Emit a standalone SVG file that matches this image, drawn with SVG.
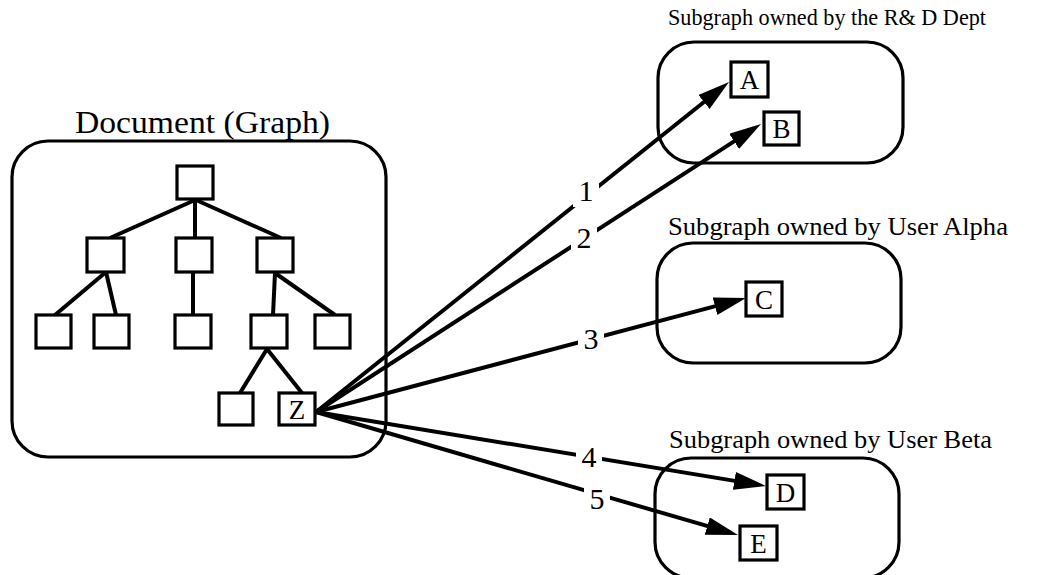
<svg xmlns="http://www.w3.org/2000/svg" width="1049" height="575" viewBox="0 0 1049 575">
<style>
.frame{fill:none;stroke:#000;stroke-width:3.2}
.node{fill:#fff;stroke:#000;stroke-width:3.2}
.edge{stroke:#000;stroke-width:4;fill:none}
.arrow{stroke:#000;stroke-width:4;fill:none;marker-end:url(#ah)}
.title{font-family:"Liberation Serif",serif;fill:#000}
.lbl{font-family:"Liberation Serif",serif;font-size:27px;text-anchor:middle;fill:#000}
.num{font-family:"Liberation Serif",serif;font-size:30px;text-anchor:middle;fill:#000}
.gap{fill:#fff}
</style>
<defs>
<marker id="ah" markerUnits="userSpaceOnUse" markerWidth="34" markerHeight="20" refX="22" refY="9" orient="auto">
<path d="M0,0 L32,9 L0,18 Z" fill="#000"/>
</marker>
</defs>
<rect width="1049" height="575" fill="#fff"/>

<g id="document">
<rect class="frame" x="12" y="141" width="374" height="316" rx="36" ry="36"/>
<text class="title" x="75" y="133" font-size="31" textLength="255" lengthAdjust="spacingAndGlyphs">Document  (Graph)</text>
</g>

<g id="tree-edges">
<line class="edge" x1="195" y1="200" x2="110" y2="238"/>
<line class="edge" x1="195" y1="200" x2="195" y2="238"/>
<line class="edge" x1="196" y1="200" x2="281" y2="238"/>
<line class="edge" x1="106" y1="272" x2="55" y2="315"/>
<line class="edge" x1="106" y1="272" x2="116" y2="315"/>
<line class="edge" x1="193" y1="272" x2="193" y2="315"/>
<line class="edge" x1="275" y1="273" x2="273" y2="315"/>
<line class="edge" x1="275" y1="273" x2="335" y2="315"/>
<line class="edge" x1="267" y1="349" x2="240" y2="393"/>
<line class="edge" x1="267" y1="349" x2="302" y2="393"/>
</g>

<g id="tree-root"><rect class="node" x="177" y="166" width="36" height="33"/></g>
<g id="tree-n1"><rect class="node" x="87" y="238" width="37" height="34"/></g>
<g id="tree-n2"><rect class="node" x="176" y="238" width="36" height="34"/></g>
<g id="tree-n3"><rect class="node" x="257" y="238" width="36" height="34"/></g>
<g id="tree-n4"><rect class="node" x="36" y="315" width="35" height="33"/></g>
<g id="tree-n5"><rect class="node" x="94" y="315" width="35" height="33"/></g>
<g id="tree-n6"><rect class="node" x="175" y="315" width="36" height="33"/></g>
<g id="tree-n7"><rect class="node" x="251" y="315" width="36" height="33"/></g>
<g id="tree-n8"><rect class="node" x="315" y="315" width="35" height="33"/></g>
<g id="tree-n9"><rect class="node" x="219" y="393" width="34" height="32"/></g>
<g id="node-Z"><rect class="node" x="279" y="393" width="36" height="32"/><text class="lbl" x="297" y="419">Z</text></g>

<g id="subgraph-rd">
<rect class="frame" x="658" y="42" width="245" height="121" rx="36" ry="36"/>
<text class="title" x="668" y="25" font-size="22.5" textLength="318" lengthAdjust="spacingAndGlyphs">Subgraph owned by the R&amp; D Dept</text>
</g>
<g id="node-A"><rect class="node" x="731" y="62" width="37" height="35"/><text class="lbl" x="749.5" y="89">A</text></g>
<g id="node-B"><rect class="node" x="764" y="112" width="35" height="33"/><text class="lbl" x="781.5" y="138">B</text></g>

<g id="subgraph-alpha">
<rect class="frame" x="657" y="243" width="244" height="120" rx="36" ry="36"/>
<text class="title" x="668" y="235" font-size="25.5" textLength="340" lengthAdjust="spacingAndGlyphs">Subgraph owned by User Alpha</text>
</g>
<g id="node-C"><rect class="node" x="746" y="282" width="36" height="34"/><text class="lbl" x="764" y="309">C</text></g>

<g id="subgraph-beta">
<rect class="frame" x="655" y="458" width="244" height="120" rx="36" ry="36"/>
<text class="title" x="669" y="448" font-size="25.5" textLength="323" lengthAdjust="spacingAndGlyphs">Subgraph owned by User Beta</text>
</g>
<g id="node-D"><rect class="node" x="767" y="475" width="37" height="34"/><text class="lbl" x="785.5" y="502">D</text></g>
<g id="node-E"><rect class="node" x="740" y="526" width="37" height="34"/><text class="lbl" x="758.5" y="553">E</text></g>

<g id="connectors">
<line class="arrow" x1="316" y1="412" x2="721.2" y2="88.2"/>
<line class="arrow" x1="316" y1="412" x2="752.6" y2="129.4"/>
<line class="arrow" x1="316" y1="412" x2="736.3" y2="300.6"/>
<line class="arrow" x1="316" y1="412" x2="756.1" y2="484.4"/>
<line class="arrow" x1="316" y1="412" x2="728.4" y2="532.2"/>
<rect class="gap" x="573" y="175" width="26" height="32"/>
<text class="num" x="586" y="201">1</text>
<rect class="gap" x="571" y="222" width="26" height="32"/>
<text class="num" x="584" y="248">2</text>
<rect class="gap" x="578" y="323" width="26" height="32"/>
<text class="num" x="591" y="349">3</text>
<rect class="gap" x="576" y="441" width="26" height="32"/>
<text class="num" x="589" y="467">4</text>
<rect class="gap" x="584" y="483" width="26" height="32"/>
<text class="num" x="597" y="509">5</text>
</g>
</svg>
